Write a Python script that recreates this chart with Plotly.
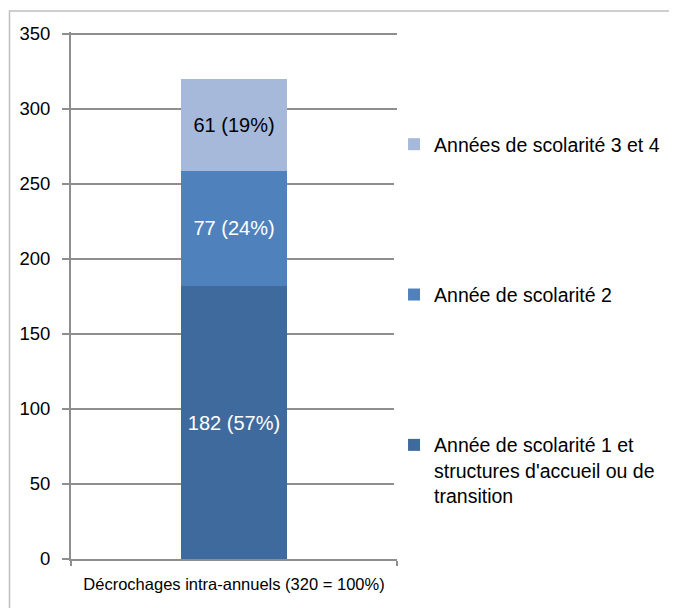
import plotly.graph_objects as go

category = ["Décrochages intra-annuels (320 = 100%)"]
series_names = [
    "Année de scolarité 1 et<br>structures d'accueil ou de<br>transition",
    "Année de scolarité 2",
    "Années de scolarité 3 et 4",
]
series_values = [182, 77, 61]
series_pct = [57, 24, 19]
colors = ["#3F6A9D", "#4F81BD", "#A7B9DB"]
text_colors = ["white", "white", "black"]
y_ticks = [0, 50, 100, 150, 200, 250, 300, 350]

FONT = "Liberation Sans, Arial, sans-serif"

fig = go.Figure()
n = len(series_names)
for i, (name, v, p) in enumerate(zip(series_names, series_values, series_pct)):
    fig.add_trace(go.Bar(
        x=category, y=[v], name=name,
        marker=dict(color=colors[i], line=dict(width=0)),
        text=[f"{v} ({p}%)"], textposition="inside", insidetextanchor="middle",
        textfont=dict(color=text_colors[i], size=20, family=FONT),
        legendgroup=str(i), legendrank=n - i,
    ))

# figure sits 8px inside the page (body margin)
W, H = 669, 600
L, R, T, B = 63, 276, 24, 49
pw, ph = W - L - R, H - T - B

def px_x(x):
    return (x - L) / pw

def px_y(y):
    return (H - B - y) / ph

fig.update_layout(
    width=W, height=H,
    margin=dict(l=L, r=R, t=T, b=B),
    barmode="stack", bargap=0.673,
    plot_bgcolor="white", paper_bgcolor="white",
    font=dict(family=FONT, size=19, color="black"),
    showlegend=True,
    legend=dict(
        x=px_x(390), y=px_y(117), xanchor="left", yanchor="top",
        traceorder="grouped", tracegroupgap=122, valign="top",
        font=dict(size=19.5, family=FONT, color="black"),
        itemwidth=30,
    ),
    yaxis=dict(
        range=[0, 351.33], tickvals=y_ticks, showgrid=True,
        gridcolor="#8E8E8E", gridwidth=2,
        showline=True, linecolor="#8E8E8E", linewidth=2,
        ticks="outside", ticklen=7, tickcolor="#8E8E8E", tickwidth=1.5,
        tickfont=dict(size=18.5, family=FONT), zeroline=False,
        ticklabelstandoff=8,
    ),
    xaxis=dict(
        showline=True, linecolor="#8E8E8E", linewidth=2,
        ticks="outside", ticklen=5, tickcolor="#8E8E8E", tickwidth=1.5,
        tickson="boundaries",
        tickfont=dict(size=16.5, family=FONT),
        ticklabelstandoff=9,
    ),
    shapes=[dict(
        type="rect", xref="paper", yref="paper",
        x0=px_x(0.75), x1=px_x(700), y0=px_y(640), y1=px_y(3),
        line=dict(color="#BFBFBF", width=1.5), fillcolor="rgba(0,0,0,0)", layer="below",
    )],
)

fig.write_html("out.html")
